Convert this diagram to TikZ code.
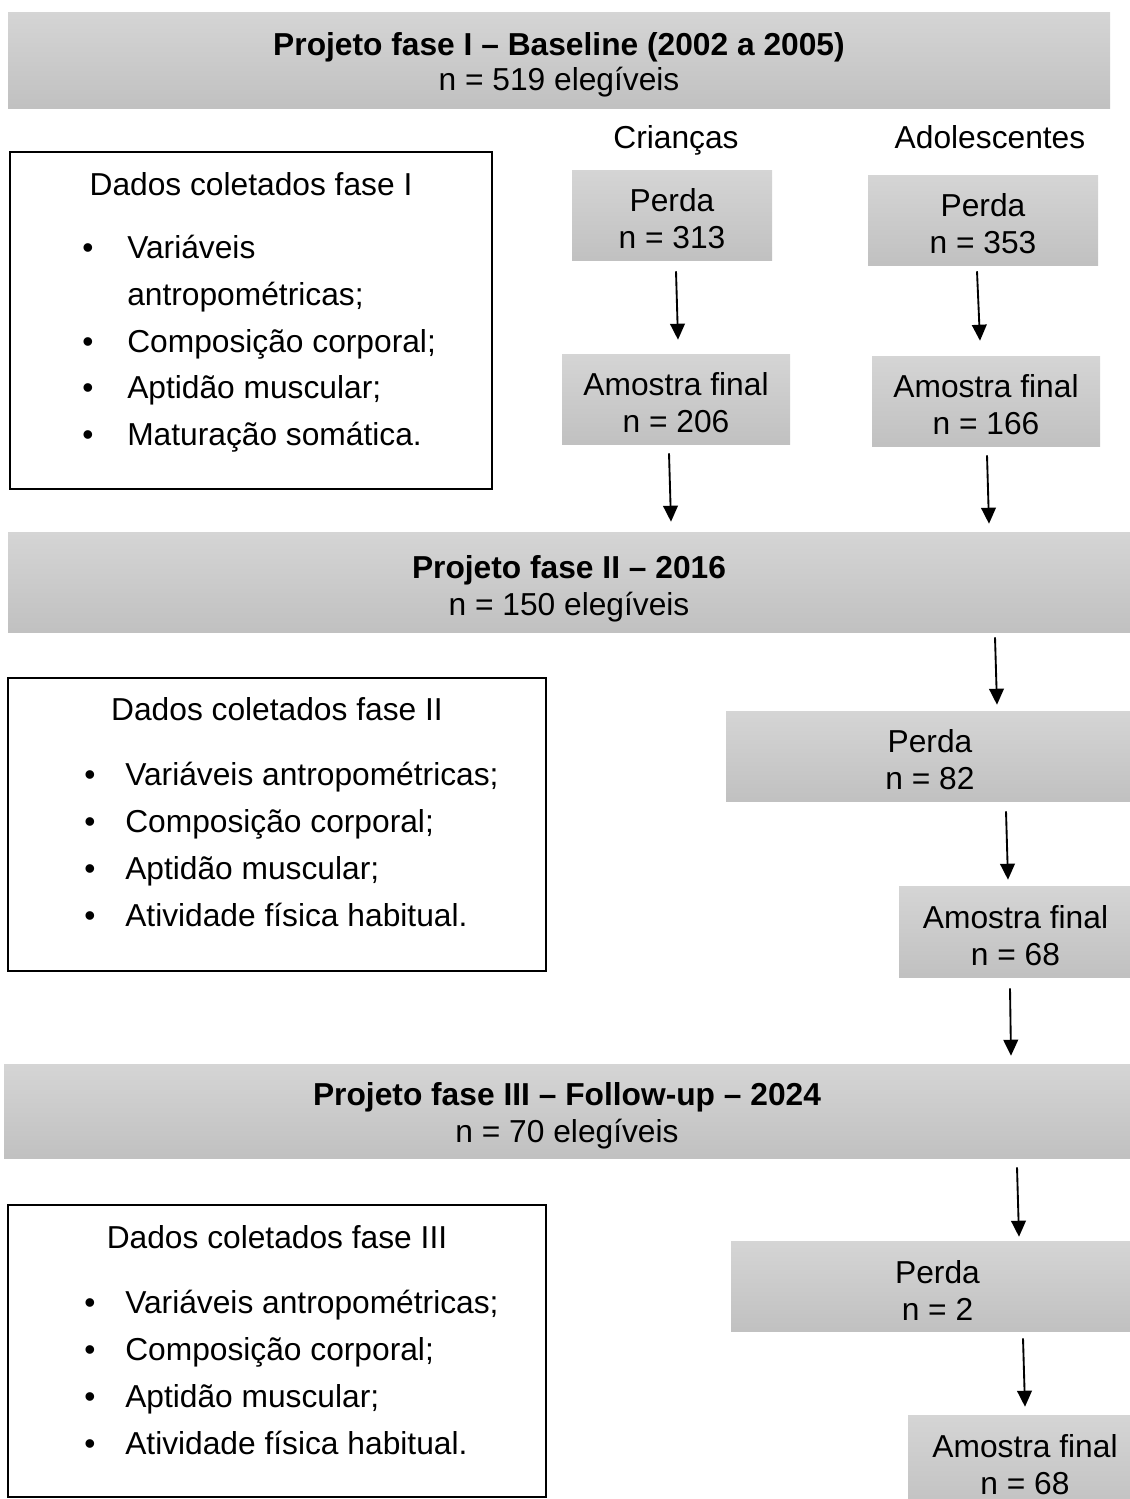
\documentclass[tikz,border=0pt]{standalone}
\usepackage{fontspec}
\setmainfont{Liberation Sans}
\usetikzlibrary{fit,calc,arrows.meta}
\begin{document}
\begin{tikzpicture}[x=0.75pt,y=-0.75pt,
  gbox/.style={inner sep=0pt, shade, shading=axis, top color=gray!33, bottom color=gray!49, draw=none},
  txt/.style={inner sep=0pt, font=\fontsize{23.8pt}{27.75pt}\selectfont},
  ctxt/.style={txt, align=center},
  dbox/.style={inner sep=0pt, draw=black, line width=2pt},
  arr/.style={line width=1.4pt, -{Triangle[width=11pt,length=12pt]}}
]
\useasboundingbox (0,0) rectangle (1130,1499);

% headers
\node[gbox, fit={(8,12)(1110,108)}] (h1) {};
\node[ctxt, font=\fontsize{23.8pt}{26.5pt}\selectfont] (h1t) at ($(h1.center)+(0,5)$) {\textbf{Projeto fase I – Baseline (2002 a 2005)}\\n = 519 elegíveis};
\node[gbox, fit={(8,532)(1130,632)}] (h2) {};
\node[ctxt] (h2t) at ($(h2.center)+(0,7)$) {\textbf{Projeto fase II – 2016}\\n = 150 elegíveis};
\node[gbox, fit={(4,1064)(1130,1158)}] (h3) {};
\node[ctxt] (h3t) at ($(h3.center)+(0,5)$) {\textbf{Projeto fase III – Follow-up – 2024}\\n = 70 elegíveis};

% group labels
\node[txt, anchor=base] (cri) at (676,148) {Crianças};
\node[txt, anchor=base] (ado) at (990,148) {Adolescentes};

% phase I boxes
\node[gbox, fit={(572,170)(772,260)}] (p313) {};
\node[ctxt] (p313t) at ($(p313.center)+(0,4)$) {Perda\\n = 313};
\node[gbox, fit={(868,175)(1098,265)}] (p353) {};
\node[ctxt] (p353t) at ($(p353.center)+(0,4)$) {Perda\\n = 353};
\node[gbox, fit={(562,354)(790,444)}] (a206) {};
\node[ctxt] (a206t) at ($(a206.center)+(0,4)$) {Amostra final\\n = 206};
\node[gbox, fit={(872,356)(1100,446)}] (a166) {};
\node[ctxt] (a166t) at ($(a166.center)+(0,4)$) {Amostra final\\n = 166};

% phase II boxes
\node[gbox, fit={(726,711)(1130,801)}] (p82) {};
\node[ctxt] (p82t) at ($(p82.center)+(2,4)$) {Perda\\n = 82};
\node[gbox, fit={(899,886)(1130,977)}] (a68) {};
\node[ctxt] (a68t) at ($(a68.center)+(1,4)$) {Amostra final\\n = 68};

% phase III boxes
\node[gbox, fit={(731,1241)(1130,1331)}] (p2) {};
\node[ctxt] (p2t) at ($(p2.center)+(7,4)$) {Perda\\n = 2};
\node[gbox, fit={(908,1415)(1130,1514)}] (a68b) {};
\node[ctxt] (a68bt) at ($(a68b.center)+(6,0)$) {Amostra final\\n = 68};

% arrows
\draw[arr] ($(p313.south)+(4,11)$) -- ($(a206.north)+(2,-14)$);
\draw[arr] ($(p353.south)+(-6,6)$) -- ($(a166.north)+(-6,-15)$);
\draw[arr] ($(a206.south)+(-7,9)$) -- ($(a206.south |- h2.north)+(-5,-10)$);
\draw[arr] ($(a166.south)+(1,9)$) -- ($(a166.south |- h2.north)+(3,-8)$);
\draw[arr] ($(p82.north |- h2.south)+(67,5)$) -- ($(p82.north)+(69,-6)$);
\draw[arr] ($(p82.south)+(78,10)$) -- ($(a68.north)+(-6.5,-6)$);
\draw[arr] ($(a68.south)+(-4.5,11)$) -- ($(a68.south |- h3.north)+(-3.5,-8)$);
\draw[arr] ($(p2.north |- h3.south)+(86.5,9)$) -- ($(p2.north)+(88.5,-4)$);
\draw[arr] ($(p2.south)+(92.5,7)$) -- ($(a68b.north)+(6,-8)$);

% Dados fase I
\node[dbox, fit={(10,152)(492,489)}] (d1) {};
\node[txt, anchor=base] (d1t) at (251,195) {Dados coletados fase I};
\node[txt, anchor=base] (d1b1) at (88,258) {•};
\node[txt, anchor=base west] (d1i1) at (127,258) {Variáveis};
\node[txt, anchor=base west] (d1i1b) at (127,305) {antropométricas;};
\node[txt, anchor=base] (d1b2) at (88,352) {•};
\node[txt, anchor=base west] (d1i2) at (127,352) {Composição corporal;};
\node[txt, anchor=base] (d1b3) at (88,398) {•};
\node[txt, anchor=base west] (d1i3) at (127,398) {Aptidão muscular;};
\node[txt, anchor=base] (d1b4) at (88,445) {•};
\node[txt, anchor=base west] (d1i4) at (127,445) {Maturação somática.};

% Dados fase II
\node[dbox, fit={(8,678)(546,971)}] (d2) {};
\node[txt, anchor=base] (d2t) at (277,720) {Dados coletados fase II};
\node[txt, anchor=base] (d2b1) at (90,785) {•};
\node[txt, anchor=base west] (d2i1) at (125,785) {Variáveis antropométricas;};
\node[txt, anchor=base] (d2b2) at (90,832) {•};
\node[txt, anchor=base west] (d2i2) at (125,832) {Composição corporal;};
\node[txt, anchor=base] (d2b3) at (90,879) {•};
\node[txt, anchor=base west] (d2i3) at (125,879) {Aptidão muscular;};
\node[txt, anchor=base] (d2b4) at (90,926) {•};
\node[txt, anchor=base west] (d2i4) at (125,926) {Atividade física habitual.};

% Dados fase III
\node[dbox, fit={(8,1205)(546,1497)}] (d3) {};
\node[txt, anchor=base] (d3t) at (277,1248) {Dados coletados fase III};
\node[txt, anchor=base] (d3b1) at (90,1313) {•};
\node[txt, anchor=base west] (d3i1) at (125,1313) {Variáveis antropométricas;};
\node[txt, anchor=base] (d3b2) at (90,1360) {•};
\node[txt, anchor=base west] (d3i2) at (125,1360) {Composição corporal;};
\node[txt, anchor=base] (d3b3) at (90,1407) {•};
\node[txt, anchor=base west] (d3i3) at (125,1407) {Aptidão muscular;};
\node[txt, anchor=base] (d3b4) at (90,1454) {•};
\node[txt, anchor=base west] (d3i4) at (125,1454) {Atividade física habitual.};
\end{tikzpicture}
\end{document}
